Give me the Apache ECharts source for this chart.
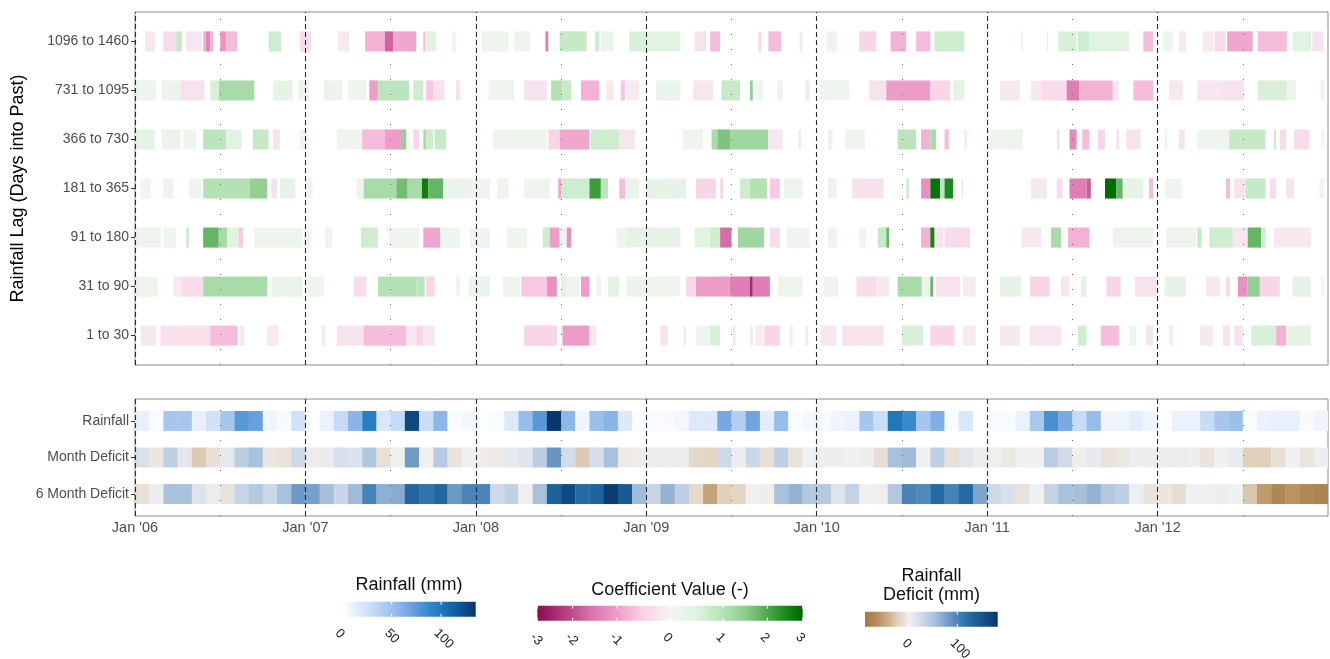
<!DOCTYPE html>
<html><head><meta charset="utf-8">
<script src="https://cdn.jsdelivr.net/npm/echarts@6/dist/echarts.min.js"></script>
<style>html,body{margin:0;padding:0;background:#fff}#c{width:1330px;height:659px}</style>
</head><body><div id="c"></div><script>
// ---------- categories / tick labels ----------
const lagLabels = ['1 to 30','31 to 90','91 to 180','181 to 365','366 to 730','731 to 1095','1096 to 1460'];
const deficitRowLabels = ['6 Month Deficit','Month Deficit','Rainfall'];
const xTickLabels = ["Jan '06","Jan '07","Jan '08","Jan '09","Jan '10","Jan '11","Jan '12"];
const yearStartMonths = [0,12,24,36,48,60,72];
const midYearMonths = [6,18,30,42,54,66,78];
const coefTicks = [-3,-2,-1,0,1,2,3];
const rainTicks = [0,50,100];
const deficitTicks = [0,100];

// ---------- coefficient segments: [startMonth, endMonth, value] (months since Jan 2006) ----------
const seg1to30 = [[0.4,1.5,-0.15],[1.8,5.3,-0.3],[5.3,7.2,-0.7],[7.4,7.7,-0.2],[9.3,10.1,-0.15],[13.1,13.4,-0.15],[14.2,16.1,-0.25],[16.1,19.1,-0.7],[19.1,19.8,-0.2],[19.8,20.3,-0.45],[20.3,21.1,-0.2],[27.4,29.7,-0.45],[30.1,32.0,-1.0],[32.0,32.5,-0.15],[37.0,37.5,-0.25],[38.6,38.8,-0.15],[39.5,40.5,0.15],[40.5,41.2,0.6],[42.1,42.3,-0.15],[43.3,43.5,-0.15],[43.7,44.2,-0.15],[44.3,45.4,-0.45],[46.1,46.3,-0.15],[47.2,47.4,-0.15],[48.3,49.4,-0.2],[49.8,52.7,-0.25],[54.0,55.5,0.6],[56.0,57.7,-0.45],[58.3,59.2,-0.15],[60.9,62.3,-0.15],[63.0,65.2,-0.2],[66.4,67.0,0.7],[68.0,69.3,-0.7],[70.0,70.5,0.15],[71.2,71.7,-0.2],[72.8,73.1,-0.15],[75.0,75.9,-0.15],[76.6,77.1,-0.25],[77.4,78.0,-0.25],[78.6,80.35,0.6],[80.35,81.05,-0.8],[81.05,82.8,0.35]];
const seg31to90 = [[0,1.6,0.2],[2.7,3.3,-0.15],[3.3,4.8,-0.35],[4.8,9.3,1.15],[9.6,11.8,0.25],[12.0,13.3,0.15],[15.4,16.3,-0.35],[17.1,19.8,1.0],[19.8,20.4,0.9],[20.5,21.1,-0.45],[22.6,22.9,0.15],[23.5,25.0,0.25],[25.9,27.1,0.15],[27.2,29.0,-0.6],[29.0,29.7,-1.15],[30.0,30.4,0.45],[30.4,31.3,0.15],[31.4,32.0,-1.0],[32.5,32.8,0.15],[33.3,34.1,0.35],[34.6,36.0,0.25],[36.0,38.4,0.15],[38.8,39.5,-0.45],[39.5,41.9,-1.0],[41.9,43.3,-1.4],[43.3,43.5,-2.5],[43.5,44.7,-1.4],[45.3,47.0,0.2],[48.5,49.5,0.15],[50.8,52.2,-0.35],[52.2,53.1,-0.15],[53.7,55.4,1.15],[55.4,56.0,0.25],[56.0,56.2,1.8],[56.4,58.1,-0.25],[58.3,59.2,-0.15],[60.9,62.4,0.3],[63.0,64.4,-0.45],[65.2,65.8,-0.2],[66.6,67.0,0.45],[68.4,69.4,-0.45],[70.4,71.9,-0.25],[72.5,74.0,0.3],[75.4,76.4,-0.15],[76.8,77.1,-0.35],[77.65,78.35,-1.15],[78.35,79.2,1.4],[79.2,80.6,-0.45],[81.5,82.8,0.3],[83.5,83.7,0.15]];
const seg91to180 = [[0,1.8,0.2],[2.0,2.9,0.15],[3.6,3.8,0.7],[4.8,5.9,1.8],[5.9,6.5,1.15],[6.5,7.3,0.45],[7.3,7.6,-0.6],[8.4,11.8,0.15],[11.9,12.4,0.15],[13.4,13.9,0.15],[15.9,17.1,0.7],[17.9,20.0,0.15],[20.3,21.5,-0.9],[21.5,22.9,0.15],[23.6,25.0,0.15],[26.2,27.6,0.15],[28.7,29.2,0.7],[29.2,29.9,-1.0],[29.9,30.4,0.15],[30.4,30.7,-1.15],[33.9,34.6,0.15],[34.6,36.0,0.35],[36.0,38.4,0.3],[39.4,40.5,0.45],[40.5,41.2,0.7],[41.2,42.0,-1.6],[42.45,44.3,1.25],[44.7,45.4,-0.35],[45.9,47.5,0.15],[48.8,49.4,0.2],[51.0,51.5,0.15],[52.3,52.9,0.8],[52.9,53.1,1.8],[55.35,56.0,-0.8],[56.0,56.3,2.6],[56.3,56.9,-0.25],[57.0,58.8,-0.35],[62.4,63.8,-0.15],[64.5,65.2,1.15],[65.7,67.2,-0.8],[68.85,71.7,0.2],[72.6,74.7,0.2],[74.8,75.1,0.8],[75.65,77.3,0.7],[77.3,78.35,-0.2],[78.35,79.3,1.8],[79.3,79.6,0.7],[80.2,82.8,-0.15]];
const seg181to365 = [[0.4,1.1,0.15],[2.0,2.7,0.2],[3.8,4.7,0.15],[4.8,8.1,1.0],[8.1,9.3,1.4],[9.6,10.0,-0.25],[10.2,11.3,0.3],[12.0,12.5,0.15],[15.6,16.1,0.15],[16.1,18.4,1.15],[18.4,19.2,1.7],[19.2,20.2,1.15],[20.2,20.65,2.7],[20.65,21.7,1.8],[21.7,23.6,0.25],[23.6,25.0,0.15],[25.5,26.3,0.15],[27.4,29.2,0.15],[29.8,30.0,-0.9],[30.0,32.0,0.7],[32.0,32.8,2.2],[32.8,33.3,0.9],[34.1,34.5,-0.7],[34.5,35.5,0.25],[36.0,38.8,0.3],[39.5,40.9,-0.45],[41.2,41.4,-0.45],[42.6,43.3,0.7],[43.3,44.5,1.0],[44.7,45.4,-0.6],[45.7,47.0,0.2],[48.8,49.4,0.25],[50.5,52.7,-0.3],[54.3,54.5,0.7],[55.35,56.0,-1.15],[56.0,56.7,2.8],[56.7,57.0,0.9],[57.0,57.6,2.5],[58.2,58.3,-0.25],[63.1,64.2,-0.15],[64.9,65.3,-0.35],[65.8,67.0,-1.4],[67.0,67.3,-1.8],[68.3,69.1,2.9],[69.1,69.55,1.8],[69.55,71.0,0.3],[71.4,71.7,-0.7],[72.5,73.7,0.15],[76.8,77.1,-0.7],[77.4,78.2,-0.25],[78.2,79.6,0.8],[79.9,80.35,-0.35],[81.05,81.6,-0.25],[83.4,83.7,0.15]];
const seg366to730 = [[0,1.4,0.35],[1.9,3.2,0.25],[3.4,4.3,0.15],[4.8,6.4,0.9],[6.4,7.5,0.45],[8.3,9.4,0.8],[9.7,10.2,-0.25],[11.6,12.2,0.15],[14.2,16.0,0.15],[16.0,17.6,-0.7],[17.6,18.8,-1.0],[18.8,19.1,1.4],[19.6,20.0,-0.45],[20.3,20.5,1.15],[20.5,21.0,0.7],[21.1,21.9,0.8],[25.2,29.0,0.15],[29.1,29.9,-0.45],[29.9,32.0,-0.9],[32.1,34.1,0.7],[34.1,35.2,-0.2],[38.6,40.0,0.15],[40.6,41.0,1.15],[41.0,41.9,1.6],[41.9,44.6,1.25],[44.6,45.6,-0.2],[46.7,46.9,-0.15],[48.8,49.1,0.2],[50.0,51.4,0.15],[53.7,55.0,0.9],[55.35,56.0,-0.8],[56.0,56.4,1.15],[57.0,57.3,-0.7],[58.4,58.6,-0.15],[60.0,61.6,0.15],[61.6,62.5,0.2],[64.9,65.1,-0.25],[65.8,66.3,-1.25],[66.7,67.2,-0.7],[67.8,68.3,-0.45],[69.1,69.3,-0.25],[69.8,70.8,-0.25],[72.5,72.7,0.15],[73.5,73.9,-0.25],[74.8,77.05,0.15],[77.05,79.6,0.8],[80.2,80.35,0.7],[80.6,81.05,-0.35],[81.6,82.7,-0.35],[83.5,83.7,0.15]];
const seg731to1095 = [[0,1.5,0.2],[1.9,3.2,0.25],[3.2,4.9,-0.25],[5.3,5.9,0.6],[5.9,8.4,1.15],[9.7,11.1,0.3],[11.5,12.3,0.2],[13.3,14.6,0.25],[15.0,16.3,0.15],[16.5,17.1,-1.0],[17.1,19.3,0.9],[19.6,20.3,0.7],[20.5,21.0,-0.6],[21.0,21.8,-0.3],[22.6,22.9,-0.25],[24.9,26.7,0.15],[27.4,29.0,-0.25],[29.3,30.1,1.0],[30.1,30.7,0.8],[31.4,32.7,-0.8],[33.2,33.7,-0.15],[34.2,34.5,-0.6],[34.6,35.5,-0.15],[36.7,38.4,0.25],[39.3,40.7,-0.2],[41.3,42.6,0.8],[43.3,43.5,1.4],[43.7,44.2,0.15],[45.2,45.6,0.15],[47.2,47.5,-0.2],[48.2,50.3,0.15],[51.7,52.9,-0.25],[52.9,56.0,-1.0],[56.0,57.4,-0.45],[57.6,58.4,0.35],[60.9,62.3,-0.15],[63.1,63.8,-0.15],[63.8,65.6,-0.35],[65.6,66.5,-1.4],[66.5,68.85,-0.8],[68.85,69.3,-0.15],[70.3,71.7,-0.7],[72.8,73.8,-0.15],[74.8,76.4,-0.2],[76.4,78.1,-0.25],[79.05,81.1,0.6],[81.1,81.75,0.15],[83.5,83.7,-0.15]];
const seg1096to1460 = [[0.7,1.4,-0.2],[2.0,2.9,-0.35],[2.9,3.3,0.8],[3.6,4.7,-0.2],[4.8,5.0,-0.8],[5.0,5.3,-1.3],[5.3,5.5,-0.8],[6.0,6.4,-1.1],[6.4,7.2,-0.7],[9.4,10.3,0.7],[11.6,12.4,-0.35],[14.3,15.1,-0.15],[16.2,17.6,-0.8],[17.6,18.2,-1.7],[18.2,19.8,-0.9],[20.3,20.45,-0.7],[20.5,21.2,0.45],[22.3,22.6,0.15],[24.4,26.3,0.15],[26.7,27.8,0.15],[28.9,29.1,-1.4],[29.9,31.8,0.8],[32.4,32.7,0.7],[32.8,33.7,0.25],[34.8,36.0,0.6],[36.0,38.4,0.45],[39.4,40.2,-0.25],[40.5,41.2,-0.7],[43.9,44.1,-0.45],[44.6,45.5,-0.7],[46.8,47.0,-0.15],[48.7,49.4,0.2],[51.0,52.2,-0.45],[53.2,54.3,-0.8],[55.0,56.0,-0.7],[56.3,58.4,0.7],[62.4,62.5,-0.15],[64.2,64.3,-0.15],[65.0,66.3,0.6],[66.4,67.2,0.7],[67.2,70.0,0.45],[71.0,71.7,-0.7],[72.4,73.1,0.15],[73.5,74.0,-0.15],[75.2,75.9,-0.15],[76.0,76.8,-0.35],[76.9,78.7,-0.9],[79.05,81.1,-0.7],[81.5,82.8,0.45],[82.9,83.7,-0.25]];
const lagSegments = [seg1to30, seg31to90, seg91to180, seg181to365, seg366to730, seg731to1095, seg1096to1460];

// ---------- monthly values, Jan 2006 .. Dec 2012 ----------
const rainfallMm = [13,3,46,46,13,25,46,76,71,9,4,25, 2,11,31,57,95,21,31,125,28,56,3,6, 2,3,19,53,76,133,56,9,50,58,19,2, 3,4,7,19,19,66,40,68,15,52,3,6, 5,9,11,46,28,100,87,46,62,3,21,1, 3,3,11,45,82,64,30,53,9,9,15,9, 2,11,11,30,46,50,3,11,13,13,4,9];
const monthDeficit = [18,-8,38,10,-28,-12,9,40,52,-8,-10,27, -3,6,21,16,48,-12,-1,82,0,44,-10,-1, -2,-5,8,13,40,86,25,-28,22,52,-4,-3, -3,-2,-3,-18,-20,27,3,30,-12,38,-10,0, 2,3,1,2,-12,52,56,0,38,-12,12,-3, -1,-6,0,0,40,25,-1,8,-10,-7,2,4, -2,5,3,-10,0,6,-24,-24,-12,0,-9,2];
const sixMonthDeficit = [-12,4,52,52,14,-3,-10,32,45,30,52,83, 78,53,31,57,103,66,70,132,115,130,83,100, 100,28,36,0,52,135,160,127,133,175,143,57, 33,63,38,-18,-52,-24,-20,0,-2,52,63,45, 45,14,35,0,2,46,102,97,127,102,127,75, 27,20,-10,0,34,52,53,63,46,38,3,-10, -8,-14,0,0,-2,0,-30,-58,-74,-63,-73,-77];

// ---------- colour scales ----------
const coefColors = ['#8B0A50','#a82a6e','#c04c8c','#db76b0','#ee9cc8','#fad2e7','#f4f4f4','#dff3df','#b5e2b5','#8acb8a','#4da94d','#1a8c1a','#006400'];
const rainColors = ['#ffffff','#d5e5fa','#a8c8f1','#72a5e0','#2f86cc','#1064a6','#0a3466'];
const deficitColors = ['#a37845','#b38b58','#caab84','#e1d2bf','#f0f0f0','#d4ddea','#b3c8e0','#8aacd1','#5b8ebe','#2e75ad','#1c5f98','#124a82','#0a3566'];
const coefRange = [-3, 3], rainRange = [0, 135], deficitRange = [-92, 184];
const coefLegendPos = [0,0.065,0.133,0.21,0.3,0.4,0.5,0.6,0.7,0.79,0.867,0.935,1];

const FONT = '"Liberation Sans", Arial, Helvetica, sans-serif';
const chart = echarts.init(document.getElementById('c'), null, {renderer:'canvas'});

const topData = [];
lagSegments.forEach((segs, r) => segs.forEach(s => topData.push([s[0], s[1], r, s[2]])));
const mk = (arr, row) => arr.map((v, m) => [m, row, v]);

function renderSeg(params, api) {
  const r = api.value(2);
  const p0 = api.coord([api.value(0), r]);
  const p1 = api.coord([api.value(1), r]);
  const h = api.size([0, 0.41])[1];
  return {type:'rect', shape:{x:p0[0], y:p0[1]-h/2, width:Math.max(p1[0]-p0[0], 1), height:h}, style:{fill: api.visual('color')}};
}
function renderCell(params, api) {
  const m = api.value(0), r = api.value(1);
  const p0 = api.coord([m, r]);
  const p1 = api.coord([m + 1, r]);
  const h = api.size([0, 0.547])[1];
  return {type:'rect', shape:{x:p0[0], y:p0[1]-h/2, width:p1[0]-p0[0]+0.3, height:h}, style:{fill: api.visual('color')}};
}
const vlines = yearStartMonths.map(m => ({xAxis:m, lineStyle:{type:[5,3], color:'#2b2b2b', width:1.1}}))
  .concat(midYearMonths.map(m => ({xAxis:m, lineStyle:{type:[1,14], color:'#666', width:1}})));
const markLine = {silent:true, symbol:['none','none'], label:{show:false}, animation:false, data:vlines};

const yLabelStyle = {color:'#4d4d4d', fontSize:14, fontFamily:FONT, margin:6};
const gridCommon = {left:135, right:2, show:true, borderColor:'#8c8c8c', borderWidth:1, backgroundColor:'transparent'};

// ---------- legend graphics ----------
const graphics = [];
function addBar(x, y, w, h, colors, offsets) {
  const stops = colors.map((c, i) => ({offset: offsets ? offsets[i] : i/(colors.length-1), color:c}));
  graphics.push({type:'rect', shape:{x, y, width:w, height:h}, style:{fill: new echarts.graphic.LinearGradient(0,0,1,0,stops)}});
}
function addTicks(x, y, w, h, fracs, labels) {
  fracs.forEach((f, i) => {
    const tx = x + f*w;
    graphics.push({type:'line', shape:{x1:tx, y1:y, x2:tx, y2:y+3}, style:{stroke:'#fff', lineWidth:1}});
    graphics.push({type:'line', shape:{x1:tx, y1:y+h-3, x2:tx, y2:y+h}, style:{stroke:'#fff', lineWidth:1}});
    graphics.push({type:'text', x:tx-5, y:y+h+14.5, rotation:-Math.PI/4,
      style:{text:String(labels[i]), fontSize:13, fontFamily:FONT, fill:'#1a1a1a', textAlign:'left', textVerticalAlign:'middle', verticalAlign:'middle'}});
  });
}
function addTitle(x, y, t) {
  graphics.push({type:'text', x, y, style:{text:t, fontSize:18, fontFamily:FONT, fill:'#111', textAlign:'center', textVerticalAlign:'middle', verticalAlign:'middle'}});
}
// rainfall legend
addTitle(409, 585, 'Rainfall (mm)');
addBar(342.3, 601.7, 133.4, 15, rainColors);
addTicks(342.3, 601.7, 133.4, 15, rainTicks.map(v => (v-rainRange[0])/(rainRange[1]-rainRange[0])), rainTicks);
// coefficient legend
addTitle(670, 590, 'Coefficient Value (-)');
addBar(537.3, 605.7, 265.4, 15, coefColors, coefLegendPos);
addTicks(537.3, 605.7, 265.4, 15, coefTicks.map(v => coefLegendPos[(v+3)*2]), coefTicks);
// deficit legend
addTitle(931.5, 576, 'Rainfall');
addTitle(931.5, 595, 'Deficit (mm)');
addBar(865, 611.7, 132.7, 15, deficitColors);
addTicks(865, 611.7, 132.7, 15, deficitTicks.map(v => (v-deficitRange[0])/(deficitRange[1]-deficitRange[0])), deficitTicks);
// y axis title
graphics.push({type:'text', x:18, y:188.5, rotation:Math.PI/2,
  style:{text:'Rainfall Lag (Days into Past)', fontSize:18, fontFamily:FONT, fill:'#000', textAlign:'center', textVerticalAlign:'middle', verticalAlign:'middle'}});

chart.setOption({
  animation:false,
  backgroundColor:'#ffffff',
  grid:[Object.assign({top:12, height:353}, gridCommon), Object.assign({top:399, height:117}, gridCommon)],
  xAxis:[
    {gridIndex:0, type:'value', min:0, max:84, interval:12, axisLine:{show:false}, axisTick:{show:false}, axisLabel:{show:false}, splitLine:{show:false}},
    {gridIndex:1, type:'value', min:0, max:84, interval:12, axisLine:{show:false},
      axisTick:{show:true, length:4, lineStyle:{color:'#333'}, customValues:yearStartMonths},
      axisLabel:{color:'#4d4d4d', fontSize:14.5, fontFamily:FONT, margin:4, customValues:yearStartMonths, formatter:v => xTickLabels[Math.round(v/12)] || ''},
      splitLine:{show:false}}
  ],
  yAxis:[
    {gridIndex:0, type:'value', min:-0.6, max:6.6, axisLine:{show:false}, splitLine:{show:false},
      axisTick:{show:true, length:4, lineStyle:{color:'#333'}, customValues:[0,1,2,3,4,5,6]},
      axisLabel:Object.assign({customValues:[0,1,2,3,4,5,6], formatter:v => lagLabels[Math.round(v)]}, yLabelStyle)},
    {gridIndex:1, type:'value', min:-0.6, max:2.6, axisLine:{show:false}, splitLine:{show:false},
      axisTick:{show:true, length:4, lineStyle:{color:'#333'}, customValues:[0,1,2]},
      axisLabel:Object.assign({customValues:[0,1,2], formatter:v => deficitRowLabels[Math.round(v)]}, yLabelStyle)}
  ],
  visualMap:[
    {type:'continuous', show:false, seriesIndex:0, dimension:3, min:coefRange[0], max:coefRange[1], inRange:{color:coefColors}},
    {type:'continuous', show:false, seriesIndex:1, dimension:2, min:rainRange[0], max:rainRange[1], inRange:{color:rainColors}},
    {type:'continuous', show:false, seriesIndex:[2,3], dimension:2, min:deficitRange[0], max:deficitRange[1], inRange:{color:deficitColors}}
  ],
  series:[
    {type:'custom', xAxisIndex:0, yAxisIndex:0, renderItem:renderSeg, data:topData, clip:true, markLine:markLine, silent:true},
    {type:'custom', xAxisIndex:1, yAxisIndex:1, renderItem:renderCell, data:mk(rainfallMm, 2), clip:true, markLine:markLine, silent:true},
    {type:'custom', xAxisIndex:1, yAxisIndex:1, renderItem:renderCell, data:mk(monthDeficit, 1), clip:true, silent:true},
    {type:'custom', xAxisIndex:1, yAxisIndex:1, renderItem:renderCell, data:mk(sixMonthDeficit, 0), clip:true, silent:true}
  ],
  graphic:{elements:graphics}
});
</script></body></html>
